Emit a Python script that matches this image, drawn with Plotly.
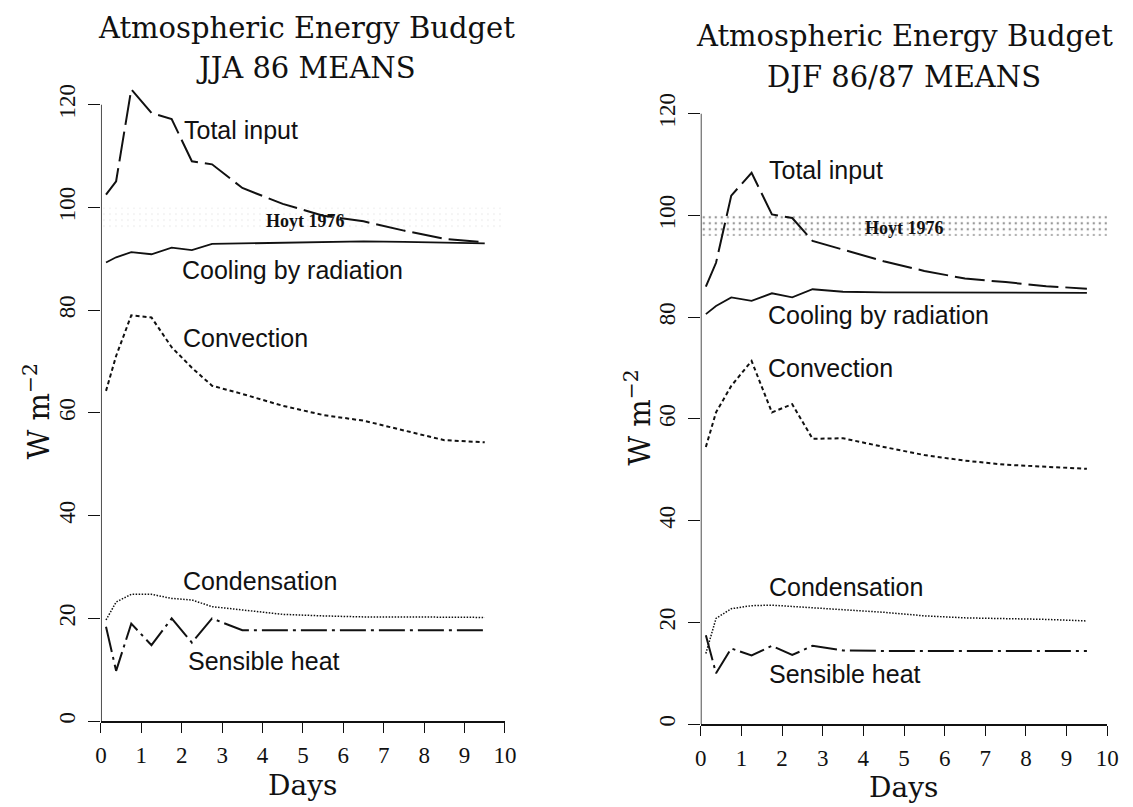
import plotly.graph_objects as go

# Forecast day at the centre of each averaging interval
days = [0.125, 0.375, 0.75, 1.25, 1.75, 2.25, 2.75, 3.5, 4.5, 5.5, 6.5, 7.5, 8.5, 9.5]

# JJA 86 means (W m-2)
jja_total = [102.5, 105.1, 123.0, 118.4, 117.2, 109.0, 108.4, 103.8, 100.7, 98.4, 97.3, 95.5, 93.9, 93.2]
jja_cooling = [89.3, 90.3, 91.3, 90.9, 92.2, 91.7, 92.9, 93.0, 93.1, 93.3, 93.4, 93.3, 93.2, 93.0]
jja_convection = [64.3, 71.1, 79.0, 78.6, 72.8, 68.8, 65.3, 63.7, 61.4, 59.6, 58.5, 56.6, 54.7, 54.3]
jja_condensation = [19.7, 23.2, 24.7, 24.7, 23.9, 23.6, 22.3, 21.6, 20.8, 20.5, 20.3, 20.3, 20.2, 20.2]
jja_sensible = [18.4, 9.8, 19.0, 14.8, 20.0, 15.3, 20.0, 17.7, 17.7, 17.7, 17.7, 17.7, 17.7, 17.7]

# DJF 86/87 means (W m-2)
djf_total = [86.0, 90.7, 103.9, 108.4, 100.2, 99.5, 95.0, 93.3, 91.0, 89.1, 87.6, 86.9, 86.1, 85.6]
djf_cooling = [80.6, 82.2, 83.9, 83.2, 84.7, 83.9, 85.5, 85.0, 84.9, 84.9, 84.9, 84.9, 84.8, 84.8]
djf_convection = [54.5, 61.3, 66.5, 71.4, 61.3, 62.9, 56.1, 56.2, 54.5, 52.9, 51.8, 51.0, 50.6, 50.2]
djf_condensation = [13.9, 20.8, 22.7, 23.3, 23.4, 23.1, 22.9, 22.5, 22.0, 21.3, 20.9, 20.8, 20.6, 20.3]
djf_sensible = [17.5, 10.0, 14.9, 13.5, 15.4, 13.6, 15.4, 14.5, 14.4, 14.4, 14.4, 14.4, 14.4, 14.4]

# Hoyt (1976) estimate of the total input
hoyt_low, hoyt_high = 96, 100
hoyt_days = [0, 10.05]

x_ticks = list(range(0, 11))
y_ticks = list(range(0, 121, 20))

SERIF = "DejaVu Serif"
TICKFONT = "Liberation Serif"
SANS = "Liberation Sans"
INK = "#111111"

fig = go.Figure()

styles = {
    "total": dict(dash="30px,7px", width=2.0),
    "cooling": dict(dash="solid", width=1.8),
    "convection": dict(dash="4px,3px", width=2.0),
    "condensation": dict(dash="1.5px,1.5px", width=1.5),
    "sensible": dict(dash="26px,5px,3px,5px", width=2.0),
}

panels = [
    ("x", "y", dict(total=jja_total, cooling=jja_cooling, convection=jja_convection,
                    condensation=jja_condensation, sensible=jja_sensible), "#e2e2e2", 0.08),
    ("x2", "y2", dict(total=djf_total, cooling=djf_cooling, convection=djf_convection,
                      condensation=djf_condensation, sensible=djf_sensible), "#333333", 0.14),
]

for xa, ya, series, dotcol, solid in panels:
    # dotted band for Hoyt (1976)
    fig.add_trace(go.Scatter(
        x=[hoyt_days[0], hoyt_days[1], hoyt_days[1], hoyt_days[0], hoyt_days[0]],
        y=[hoyt_low, hoyt_low, hoyt_high, hoyt_high, hoyt_low],
        mode="none", fill="toself", fillcolor="rgba(0,0,0,0)",
        fillpattern=dict(shape=".", size=6, solidity=solid, fgcolor=dotcol, bgcolor="white"),
        xaxis=xa, yaxis=ya, hoverinfo="skip", showlegend=False,
    ))
    for key in ["total", "cooling", "convection", "condensation", "sensible"]:
        st = styles[key]
        fig.add_trace(go.Scatter(
            x=days, y=series[key], mode="lines",
            line=dict(color=INK, width=st["width"], dash=st["dash"]),
            xaxis=xa, yaxis=ya, showlegend=False, hoverinfo="skip",
        ))

W, H = 1133, 807

def xaxis_cfg(domain):
    return dict(domain=domain, range=[0, 10], tickvals=x_ticks, ticks="outside",
                ticklen=10, tickwidth=1.3, tickcolor=INK, showline=True, linewidth=1.5,
                linecolor=INK, showgrid=False, zeroline=False,
                tickfont=dict(family=TICKFONT, size=23, color=INK), ticklabelstandoff=2)

def yaxis_cfg(domain, anchor):
    return dict(domain=domain, range=[0, 125], tickvals=y_ticks, ticks="outside",
                ticklen=12, tickwidth=1.3, tickcolor=INK, showline=False,
                showgrid=False, zeroline=False, tickangle=-90, anchor=anchor,
                tickfont=dict(family=TICKFONT, size=23, color=INK), ticklabelstandoff=4)

fig.update_layout(
    width=W, height=H, margin=dict(l=0, r=0, t=0, b=0),
    paper_bgcolor="white", plot_bgcolor="white",
    xaxis=xaxis_cfg([96.5 / W, 507 / W]) | dict(anchor="y"),
    yaxis=yaxis_cfg([1 - 723 / H, 1 - (723 - 125 * 5.15) / H], "x"),
    xaxis2=xaxis_cfg([706 / W, 1119 / W]) | dict(anchor="y2"),
    yaxis2=yaxis_cfg([1 - 726 / H, 1 - (726 - 125 * 5.1) / H], "x2"),
)

# y-axis spines drawn from 0 to 120 only
for xr, yr in [("x", "y"), ("x2", "y2")]:
    fig.add_shape(type="line", xref=xr, yref=yr, x0=0, x1=0, y0=0, y1=120,
                  line=dict(color=INK, width=1.5))

ann = []

def paper_text(text, px, py, size, family, angle=0):
    ann.append(dict(text=text, x=px / W, y=1 - py / H, xref="paper", yref="paper",
                    showarrow=False, xanchor="center", yanchor="middle", textangle=angle,
                    font=dict(family=family, size=size, color=INK)))

# Titles
paper_text("Atmospheric Energy Budget", 305, 28, 29, SERIF)
paper_text("JJA 86 MEANS", 305, 68, 29, SERIF)
paper_text("Atmospheric Energy Budget", 913, 36, 29, SERIF)
paper_text("DJF 86/87 MEANS", 913, 77, 29, SERIF)

# Axis titles
paper_text("W m<sup>−2</sup>", 31, 413, 29, SERIF, -90)
paper_text("W m<sup>−2</sup>", 642, 419, 29, SERIF, -90)
paper_text("Days", 301, 787, 28, SERIF)
paper_text("Days", 912, 789, 28, SERIF)

def curve_label(text, xr, yr, x, y, size=25, family=SANS, bold=False):
    ann.append(dict(text=f"<b>{text}</b>" if bold else text, x=x, y=y, xref=xr, yref=yr,
                    showarrow=False, xanchor="left", yanchor="middle",
                    font=dict(family=family, size=size, color=INK)))

# JJA curve labels
curve_label("Total input", "x", "y", 2.0, 115.0)
curve_label("Cooling by radiation", "x", "y", 1.95, 87.8)
curve_label("Convection", "x", "y", 1.98, 74.6)
curve_label("Condensation", "x", "y", 1.98, 27.2)
curve_label("Sensible heat", "x", "y", 2.1, 11.8)
curve_label("Hoyt 1976", "x", "y", 4.03, 97.3, size=18, family=TICKFONT, bold=True)

# DJF curve labels
curve_label("Total input", "x2", "y2", 1.62, 109.0)
curve_label("Cooling by radiation", "x2", "y2", 1.6, 80.4)
curve_label("Convection", "x2", "y2", 1.6, 70.0)
curve_label("Condensation", "x2", "y2", 1.62, 26.9)
curve_label("Sensible heat", "x2", "y2", 1.62, 9.8)
curve_label("Hoyt 1976", "x2", "y2", 4.0, 97.6, size=18, family=TICKFONT, bold=True)

fig.update_layout(annotations=ann)

fig.write_html("out.html")
